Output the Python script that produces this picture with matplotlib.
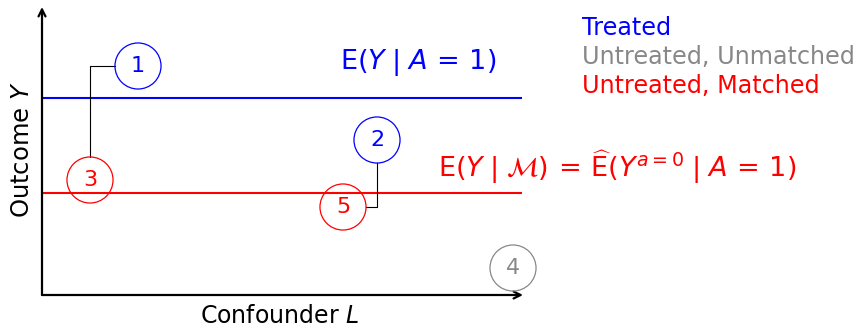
import matplotlib
matplotlib.use("Agg")
import matplotlib.pyplot as plt

plt.rcParams['font.family'] = ['DejaVu Sans']
plt.rcParams['mathtext.fontset'] = 'dejavusans'

BLUE = '#0000ff'
RED = '#ff0000'
GRAY = '#888888'

# horizontal levels (pixel-like units above the origin)
treated_level = 197
matched_level = 102
x_end = 480

# numbered circles: label, x, y, colour
circle_labels = ['1', '2', '3', '4', '5']
circle_x = [96, 335, 48, 471, 301]
circle_y = [229, 155, 115, 27, 88]
circle_colors = [BLUE, BLUE, RED, GRAY, RED]
r = 23

legend_labels = ['Treated', 'Untreated, Unmatched', 'Untreated, Matched']
legend_colors = [BLUE, GRAY, RED]

fig = plt.figure(figsize=(8.6, 3.28), dpi=100)
ax = fig.add_axes([42/860, 33/328, 480/860, 287/328])
ax.set_xlim(0, x_end)
ax.set_ylim(0, 287)
ax.axis('off')

# axes with arrows
arr = dict(arrowstyle='->,head_length=0.5,head_width=0.25', lw=1.6, color='black', shrinkA=0, shrinkB=0)
ax.annotate('', xy=(x_end + 1, 0), xytext=(0, 0), arrowprops=arr, annotation_clip=False)
ax.annotate('', xy=(0, 288), xytext=(0, 0), arrowprops=arr, annotation_clip=False)

# expectation lines
ax.plot([0, x_end], [treated_level, treated_level], color=BLUE, lw=1.5)
ax.plot([0, x_end], [matched_level, matched_level], color=RED, lw=1.5)

# connectors 1-3 and 2-5
ax.plot([circle_x[0] - r, circle_x[2], circle_x[2]],
        [circle_y[0], circle_y[0], circle_y[2] + r], color='black', lw=0.8)
ax.plot([circle_x[1], circle_x[1], circle_x[4] + r],
        [circle_y[1] - r, circle_y[4], circle_y[4]], color='black', lw=0.8)

# circles
for lab, cx, cy, c in zip(circle_labels, circle_x, circle_y, circle_colors):
    ax.scatter([cx], [cy], s=1100, facecolors='none', edgecolors=c, linewidths=0.9, clip_on=False, zorder=3)
    ax.text(cx, cy, lab, color=c, fontsize=16, ha='center', va='center', zorder=4)

ax.text(376, 233, r'$\mathrm{E}(Y\;|\;A\,=\,1)$', color=BLUE, fontsize=19.5, ha='center', va='center')
ax.text(396, 128, r'$\mathrm{E}(Y\;|\;\mathcal{M})\,=\,\widehat{\mathrm{E}}(Y^{a=0}\;|\;A\,=\,1)$',
        color=RED, fontsize=19.5, ha='left', va='center', clip_on=False)

for i, (lab, c) in enumerate(zip(legend_labels, legend_colors)):
    ax.text(540, 267 - 29 * i, lab, color=c, fontsize=17.2, ha='left', va='center', clip_on=False)

fig.text(22/860, 1 - 150/328, r'Outcome $Y$', rotation=90, fontsize=17.5, ha='center', va='center')
fig.text(280/860, 1 - 316/328, r'Confounder $L$', fontsize=17, ha='center', va='center')

fig.savefig('out.png', dpi=100)
